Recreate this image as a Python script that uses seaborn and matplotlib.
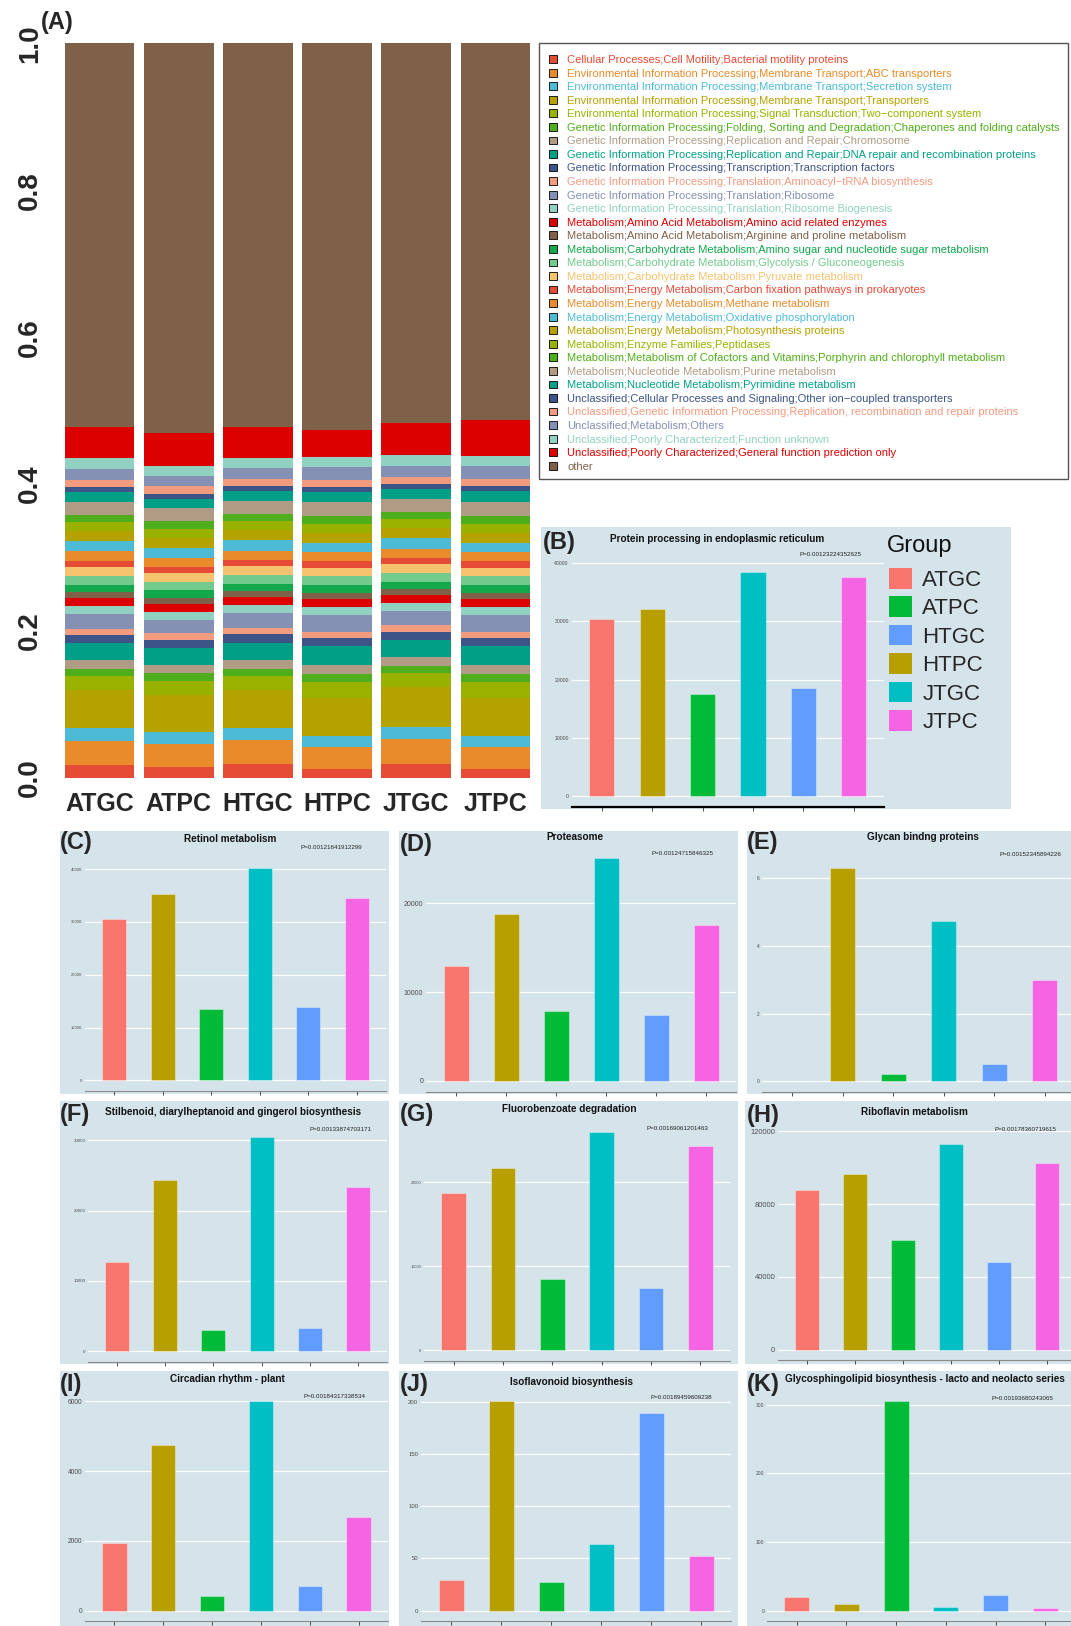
import numpy as np
import pandas as pd
import matplotlib
matplotlib.use("Agg")
import matplotlib.pyplot as plt
from matplotlib.patches import Patch, Rectangle
import seaborn as sns

sns.set_theme(style="white")
plt.rcParams["font.family"] = ["Liberation Sans", "DejaVu Sans"]

W, H = 1071, 1626

# ---------------- data: functional composition (relative abundance) ----------------
samples = ["ATGC", "ATPC", "HTGC", "HTPC", "JTGC", "JTPC"]

categories = [
    "Cellular Processes;Cell Motility;Bacterial motility proteins",
    "Environmental Information Processing;Membrane Transport;ABC transporters",
    "Environmental Information Processing;Membrane Transport;Secretion system",
    "Environmental Information Processing;Membrane Transport;Transporters",
    "Environmental Information Processing;Signal Transduction;Two\u2212component system",
    "Genetic Information Processing;Folding, Sorting and Degradation;Chaperones and folding catalysts",
    "Genetic Information Processing;Replication and Repair;Chromosome",
    "Genetic Information Processing;Replication and Repair;DNA repair and recombination proteins",
    "Genetic Information Processing;Transcription;Transcription factors",
    "Genetic Information Processing;Translation;Aminoacyl\u2212tRNA biosynthesis",
    "Genetic Information Processing;Translation;Ribosome",
    "Genetic Information Processing;Translation;Ribosome Biogenesis",
    "Metabolism;Amino Acid Metabolism;Amino acid related enzymes",
    "Metabolism;Amino Acid Metabolism;Arginine and proline metabolism",
    "Metabolism;Carbohydrate Metabolism;Amino sugar and nucleotide sugar metabolism",
    "Metabolism;Carbohydrate Metabolism;Glycolysis / Gluconeogenesis",
    "Metabolism;Carbohydrate Metabolism;Pyruvate metabolism",
    "Metabolism;Energy Metabolism;Carbon fixation pathways in prokaryotes",
    "Metabolism;Energy Metabolism;Methane metabolism",
    "Metabolism;Energy Metabolism;Oxidative phosphorylation",
    "Metabolism;Energy Metabolism;Photosynthesis proteins",
    "Metabolism;Enzyme Families;Peptidases",
    "Metabolism;Metabolism of Cofactors and Vitamins;Porphyrin and chlorophyll metabolism",
    "Metabolism;Nucleotide Metabolism;Purine metabolism",
    "Metabolism;Nucleotide Metabolism;Pyrimidine metabolism",
    "Unclassified;Cellular Processes and Signaling;Other ion\u2212coupled transporters",
    "Unclassified;Genetic Information Processing;Replication, recombination and repair proteins",
    "Unclassified;Metabolism;Others",
    "Unclassified;Poorly Characterized;Function unknown",
    "Unclassified;Poorly Characterized;General function prediction only",
    "other",
]

atgc_prop = [0.017, 0.033, 0.018, 0.052, 0.018, 0.010, 0.012, 0.024, 0.010, 0.009,
             0.020, 0.011, 0.011, 0.008, 0.010, 0.012, 0.012, 0.008, 0.013, 0.014,
             0.014, 0.012, 0.010, 0.018, 0.013, 0.007, 0.010, 0.015, 0.014, 0.042, 0.523]
atpc_prop = [0.014, 0.032, 0.016, 0.050, 0.020, 0.010, 0.012, 0.022, 0.012, 0.009,
             0.018, 0.011, 0.011, 0.008, 0.010, 0.012, 0.012, 0.008, 0.012, 0.014,
             0.014, 0.012, 0.010, 0.018, 0.013, 0.007, 0.010, 0.014, 0.013, 0.045, 0.531]
htgc_prop = [0.018, 0.033, 0.017, 0.052, 0.018, 0.010, 0.012, 0.024, 0.011, 0.009,
             0.020, 0.011, 0.011, 0.008, 0.010, 0.012, 0.012, 0.008, 0.013, 0.014,
             0.014, 0.012, 0.010, 0.018, 0.013, 0.007, 0.010, 0.015, 0.014, 0.041, 0.523]
htpc_prop = [0.012, 0.030, 0.014, 0.052, 0.022, 0.011, 0.012, 0.026, 0.011, 0.009,
             0.022, 0.011, 0.011, 0.009, 0.010, 0.012, 0.012, 0.009, 0.012, 0.012,
             0.014, 0.012, 0.011, 0.020, 0.013, 0.007, 0.010, 0.017, 0.014, 0.036, 0.527]
jtgc_prop = [0.018, 0.034, 0.017, 0.055, 0.018, 0.010, 0.012, 0.024, 0.011, 0.009,
             0.019, 0.011, 0.011, 0.008, 0.010, 0.012, 0.012, 0.008, 0.013, 0.014,
             0.014, 0.012, 0.010, 0.018, 0.013, 0.007, 0.010, 0.015, 0.014, 0.044, 0.517]
jtpc_prop = [0.012, 0.030, 0.014, 0.052, 0.022, 0.011, 0.012, 0.026, 0.011, 0.009,
             0.022, 0.011, 0.011, 0.009, 0.010, 0.012, 0.012, 0.009, 0.012, 0.012,
             0.014, 0.012, 0.011, 0.020, 0.014, 0.007, 0.010, 0.017, 0.014, 0.049, 0.513]

base_palette = ["#E64B35", "#E98B2A", "#4DBBD5", "#B5A100", "#99B200", "#4FAE1B",
                "#B09C85", "#00A087", "#3C5488", "#F39B7F", "#8491B4", "#91D1C2",
                "#DC0000", "#7E6148", "#12A84B", "#72CB8C", "#F6C36E"]
cat_colors = [base_palette[i % len(base_palette)] for i in range(len(categories))]

# ---------------- data: selected pathways (mean abundance per group) ----------------
bar_groups = ["ATGC", "HTPC", "ATPC", "JTGC", "HTGC", "JTPC"]
group_colors = {"ATGC": "#F8766D", "ATPC": "#00BA38", "HTGC": "#619CFF",
                "HTPC": "#B79F00", "JTGC": "#00BFC4", "JTPC": "#F564E3"}

protein_er = [30410, 32080, 17470, 38540, 18500, 37680]
retinol = [30620, 35320, 13530, 40260, 13960, 34500]
proteasome = [12900, 18760, 7900, 25110, 7370, 17590]
glycan = [0.0, 6.32, 0.23, 4.74, 0.50, 3.00]
stilbenoid = [12670, 24400, 3090, 30520, 3320, 23400]
fluorobenzoate = [18770, 21710, 8450, 26020, 7370, 24300]
riboflavin = [87450, 96370, 60340, 113000, 48100, 102500]
circadian = [1925, 4738, 430, 6000, 701, 2682]
isoflavonoid = [29.1, 201.2, 27.6, 63.9, 189.1, 52.4]
glycosphingolipid = [20.3, 9.4, 304.7, 4.7, 22.2, 3.3]

titles = ["Protein processing in endoplasmic reticulum", "Retinol metabolism", "Proteasome",
          "Glycan bindng proteins", "Stilbenoid, diarylheptanoid and gingerol biosynthesis",
          "Fluorobenzoate degradation", "Riboflavin metabolism", "Circadian rhythm - plant",
          "Isoflavonoid biosynthesis", "Glycosphingolipid biosynthesis - lacto and neolacto series"]
p_labels = ["P=0.00123224352625", "P=0.00121641912299", "P=0.00124715846325",
            "P=0.00152345894226", "P=0.00133874703171", "P=0.00169061201463",
            "P=0.00178360719615", "P=0.00184317338534", "P=0.00189459609238",
            "P=0.00193680243065"]
y_ticks = [[0, 10000, 20000, 30000, 40000], [0, 10000, 20000, 30000, 40000], [0, 10000, 20000],
           [0, 2, 4, 6], [0, 10000, 20000, 30000], [0, 10000, 20000],
           [0, 40000, 80000, 120000], [0, 2000, 4000, 6000], [0, 50, 100, 150, 200],
           [0, 100, 200, 300]]
letters = ["(B)", "(C)", "(D)", "(E)", "(F)", "(G)", "(H)", "(I)", "(J)", "(K)"]
pathway_values = [protein_er, retinol, proteasome, glycan, stilbenoid, fluorobenzoate,
                  riboflavin, circadian, isoflavonoid, glycosphingolipid]

# ---------------- layout (pixel boxes: x0, y0, x1, y1 from top-left) ----------------
BG = "#D5E3EB"
layout = [
    dict(bg=(541, 527, 1011, 809), plot=(571.5, 560.5, 884, 807), title=(717, 539), p=(861, 554),
         letter=(543, 542), tick_size=3.7, spine="black", spine_w=1.6),
    dict(bg=(60, 831, 389, 1094), plot=(85, 857, 386, 1091), title=(230, 839), p=(362, 847),
         letter=(60, 842), tick_size=3.0),
    dict(bg=(399, 831, 738, 1094), plot=(426, 847, 736, 1092), title=(575, 837), p=(713, 853),
         letter=(400, 844), tick_size=5.0),
    dict(bg=(747, 831, 1071, 1094), plot=(762, 857, 1075, 1092), title=(923, 837), p=(1061, 854),
         letter=(747, 842), tick_size=3.5),
    dict(bg=(60, 1101, 389, 1364), plot=(88, 1126, 387, 1362), title=(233, 1112), p=(371, 1129),
         letter=(60, 1114), tick_size=3.2),
    dict(bg=(399, 1101, 738, 1364), plot=(424, 1121, 730, 1361), title=(569, 1109), p=(708, 1128),
         letter=(400, 1114), tick_size=2.8),
    dict(bg=(745, 1101, 1071, 1364), plot=(778, 1129, 1076, 1360), title=(914, 1112), p=(1056, 1129),
         letter=(747, 1115), tick_size=5.4),
    dict(bg=(60, 1371, 389, 1626), plot=(85, 1391, 388, 1621), title=(227, 1379), p=(365, 1396),
         letter=(60, 1384), tick_size=4.8),
    dict(bg=(399, 1371, 738, 1626), plot=(421, 1390, 731, 1621), title=(572, 1382), p=(712, 1397),
         letter=(400, 1384), tick_size=4.3),
    dict(bg=(747, 1371, 1071, 1626), plot=(767, 1391, 1075, 1621), title=(785, 1379), p=(1053, 1398),
         letter=(747, 1384), tick_size=3.6, title_ha="left"),
]


def px_box(x0, y0, x1, y1):
    return [x0 / W, 1 - y1 / H, (x1 - x0) / W, (y1 - y0) / H]


def fx(x):
    return x / W


def fy(y):
    return 1 - y / H


fig = plt.figure(figsize=(W / 100, H / 100), dpi=100)
fig.patch.set_facecolor("white")

# ---------------- (A) stacked composition ----------------
comp = pd.DataFrame({"ATGC": atgc_prop, "ATPC": atpc_prop, "HTGC": htgc_prop,
                     "HTPC": htpc_prop, "JTGC": jtgc_prop, "JTPC": jtpc_prop},
                    index=categories)

axA = fig.add_axes(px_box(60, 43.5, 535, 777.6))
xpos = np.arange(len(samples))
bottom = np.zeros(len(samples))
for cat, col in zip(categories, cat_colors):
    vals = comp.loc[cat, samples].to_numpy()
    axA.bar(xpos, vals, bottom=bottom, width=0.88, color=col, linewidth=0)
    bottom += vals
axA.set_xlim(-0.5, len(samples) - 0.5)
axA.set_ylim(0, 1)
axA.set_xticks(xpos)
axA.set_xticklabels(samples, fontsize=18, fontweight="bold")
axA.set_yticks([0, 0.2, 0.4, 0.6, 0.8, 1.0])
axA.set_yticklabels(["0.0", "0.2", "0.4", "0.6", "0.8", "1.0"], fontsize=20, fontweight="bold")
axA.tick_params(axis="y", labelrotation=90, length=0, pad=12)
axA.tick_params(axis="x", length=0, pad=10.5)
for lab in axA.get_yticklabels():
    lab.set_va("center")
for s in axA.spines.values():
    s.set_visible(False)
axA.set_facecolor("white")
fig.text(fx(41), fy(22), "(A)", ha="left", va="center", fontsize=17, fontweight="bold")

# legend box of the composition panel
fig.add_artist(Rectangle((fx(539), fy(479)), (1068 - 539) / W, (479 - 43.5) / H,
                         transform=fig.transFigure, facecolor="white",
                         edgecolor="#555555", linewidth=1.0, zorder=1))
handles = [Patch(facecolor=c, edgecolor="black", linewidth=0.6, label=n)
           for n, c in zip(categories, cat_colors)]
legA = fig.legend(handles=handles, loc="upper left", bbox_to_anchor=(fx(539), fy(45)),
                  frameon=False, fontsize=8, handlelength=0.7, handleheight=0.7,
                  handletextpad=0.95, labelspacing=0.32, borderpad=0.9, borderaxespad=0)
legA.set_zorder(2)
for t, c in zip(legA.get_texts(), cat_colors):
    t.set_color(c)

# ---------------- (B)-(K) single pathway panels ----------------
for vals, title, ptxt, ticks, letter, spec in zip(pathway_values, titles, p_labels,
                                                   y_ticks, letters, layout):
    x0, y0, x1, y1 = spec["bg"]
    fig.add_artist(Rectangle((fx(x0), fy(y1)), (x1 - x0) / W, (y1 - y0) / H,
                             transform=fig.transFigure, facecolor=BG, edgecolor="none", zorder=0))
    ax = fig.add_axes(px_box(*spec["plot"]))
    ax.set_facecolor(BG)
    df = pd.DataFrame({"group": bar_groups, "value": vals})
    sns.barplot(data=df, x="group", y="value", hue="group", order=bar_groups,
                hue_order=bar_groups, palette=group_colors, width=0.5, saturation=1,
                errorbar=None, legend=False, ax=ax,
                edgecolor=(1, 1, 1, 0.35), linewidth=0.8)
    vmax = max(vals)
    ax.set_ylim(-0.05 * vmax, max(1.05 * vmax, 1.01 * max(ticks)))
    ax.set_xlim(-0.6, len(bar_groups) - 0.4)
    ax.set_yticks(ticks)
    ax.set_yticklabels([str(t) for t in ticks])
    ax.yaxis.grid(True, color="white", linewidth=0.9)
    ax.xaxis.grid(False)
    ax.set_axisbelow(True)
    for s in ["top", "right", "left"]:
        ax.spines[s].set_visible(False)
    ax.spines["bottom"].set_color(spec.get("spine", "#8A8A8A"))
    ax.spines["bottom"].set_linewidth(spec.get("spine_w", 0.8))
    ax.tick_params(axis="x", bottom=True, length=3, width=0.6, color="#333333",
                   labelbottom=False, direction="out")
    ax.tick_params(axis="y", left=False, length=0, labelsize=spec["tick_size"],
                   labelcolor="#4D4D4D", pad=2)
    ax.set_xlabel("")
    ax.set_ylabel("")

    tx, ty = spec["title"]
    fig.text(fx(tx), fy(ty), title, ha=spec.get("title_ha", "center"), va="center",
             fontsize=7.2, fontweight="bold", color="#111111")
    px, py = spec["p"]
    fig.text(fx(px), fy(py), ptxt, ha="right", va="center", fontsize=4.5, color="#222222")
    lx, ly = spec["letter"]
    fig.text(fx(lx), fy(ly), letter, ha="left", va="center", fontsize=17, fontweight="bold")

# group legend next to panel B
fig.text(fx(886.5), fy(546), "Group", ha="left", va="center", fontsize=17, color="#111111")
gh = [Patch(facecolor=group_colors[g], edgecolor="none", label=g) for g in samples]
legB = fig.legend(handles=gh, loc="upper left", bbox_to_anchor=(fx(889), fy(568)),
                  frameon=False, fontsize=16, handlelength=1.05,
                  handleheight=1.05, handletextpad=0.45, labelspacing=0.25, borderpad=0,
                  borderaxespad=0)

fig.savefig("out.png", dpi=100)
